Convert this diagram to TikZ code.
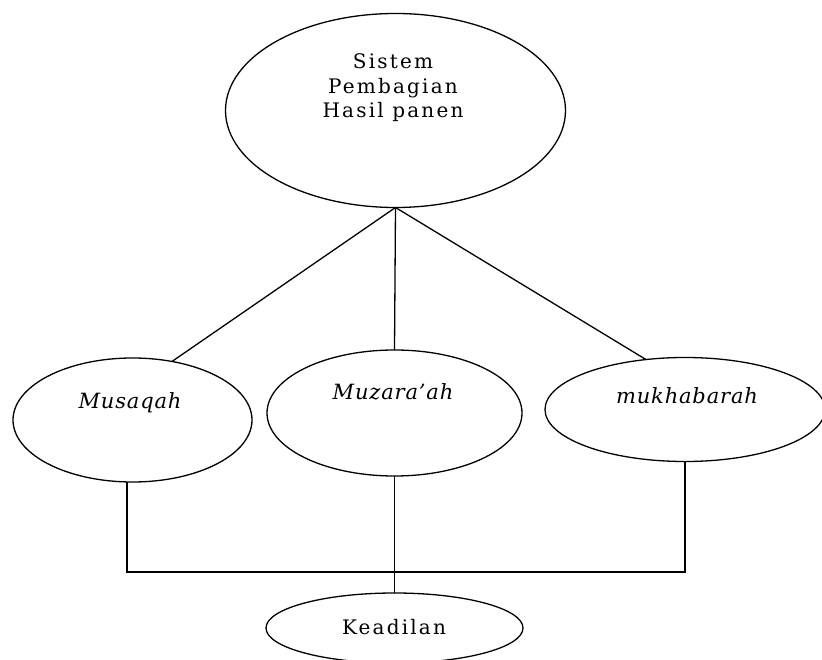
\documentclass[tikz,border=0pt]{standalone}
\usepackage{fontspec}
\setmainfont{DejaVu Serif}
\newfontfamily\labelfont[LetterSpace=11]{DejaVu Serif}
\newfontfamily\termfont[LetterSpace=4]{DejaVu Serif}
\usetikzlibrary{shapes.geometric}
\begin{document}
\begin{tikzpicture}[x=1pt,y=1pt,
  oval/.style={draw,ellipse,line width=1.3pt,inner sep=0pt,outer sep=0pt},
  caption/.style={font=\fontsize{20}{24.5}\labelfont,align=center,inner sep=0pt},
  term/.style={font=\fontsize{21}{24}\termfont\itshape,inner sep=0pt},
  link/.style={line width=1.3pt}]
\useasboundingbox (0,0) rectangle (822,659);
\begin{scope}
\clip (0,0) rectangle (822,659);
% ellipses
\node[oval,minimum width=340,minimum height=194] (top) at (395.5,548.5) {};
\node[oval,minimum width=239,minimum height=124] (mus) at (132.5,239) {};
\node[oval,minimum width=255,minimum height=126] (muz) at (394.5,246) {};
\node[oval,minimum width=280,minimum height=104] (mukh) at (685,249.5) {};
\node[oval,minimum width=257,minimum height=70] (kead) at (394.5,31) {};
% texts
\node[caption] (toptext) at (393,571) {Sistem\\Pembagian\\Hasil panen};
\node[term] (mustext) at (130,256) {Musaqah};
\node[term] (muztext) at (393,267) {Muzara’ah};
\node[term] (mukhtext) at (687,263) {mukhabarah};
\node[caption] (keadtext) at (394,32) {Keadilan};
% connectors
\coordinate (bus) at (395,87);
\draw[link] (top.south) -- (mus.56);
\draw[link] (top.south) -- (muz.north);
\draw[link] (top.south) -- (mukh.128);
\draw[link] (mus.265) |- (bus) -| (mukh.south);
\draw[link] (muz.south) -- (kead.north);
\end{scope}
\end{tikzpicture}
\end{document}
